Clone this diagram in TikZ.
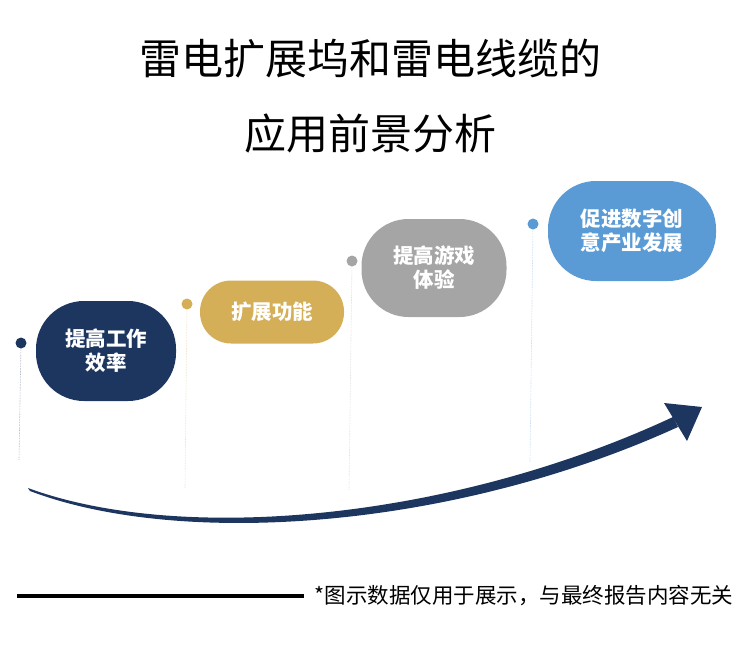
\documentclass[tikz,border=0pt]{standalone}
\usepackage{fontspec}
\setmainfont{Noto Sans CJK SC}
\usetikzlibrary{positioning}

\definecolor{navy}{HTML}{1C3660}
\definecolor{gold}{HTML}{D4AF57}
\definecolor{stone}{HTML}{A5A5A5}
\definecolor{sky}{HTML}{5B9BD5}

\tikzset{
  pill/.style={fill=#1, text=white, align=center, inner sep=0pt,
    font=\fontsize{20.5}{24}\selectfont\bfseries},
  dot/.style={circle, fill=#1, inner sep=0pt, minimum size=11pt},
  stem/.style={draw=#1!50, line width=0.6pt, densely dotted},
}

\begin{document}
\begin{tikzpicture}[x=1pt, y=-1pt]
    \useasboundingbox (0,0) rectangle (744,659);

    % title
    \node[font=\fontsize{42}{75}\selectfont, align=center] (title) at (370,96)
        {雷电扩展坞和雷电线缆的\\应用前景分析};

    % four stages
    \node[pill=navy, minimum width=140pt, minimum height=100pt, rounded corners=48pt] (effect) at (106,351) {提高工作\\效率};
    \node[pill=gold, minimum width=144pt, minimum height=63pt, rounded corners=31pt] (expand) at (272,312) {扩展功能};
    \node[pill=stone, minimum width=145pt, minimum height=98pt, rounded corners=47pt] (game) at (434,268) {提高游戏\\体验};
    \node[pill=sky, minimum width=168pt, minimum height=100pt, rounded corners=48pt] (industry) at (632,231) {促进数字创\\意产业发展};

    % markers
    \node[dot=navy] (d1) at (21,343) {};
    \node[dot=gold] (d2) at (187,304) {};
    \node[dot=stone] (d3) at (352,261) {};
    \node[dot=sky] (d4) at (533,224) {};

    \coordinate (f1) at (19,460);
    \coordinate (f2) at (185,488);
    \coordinate (f3) at (349,490);
    \coordinate (f4) at (530,462);

    \draw[stem=navy] (d1) -- (f1);
    \draw[stem=gold] (d2) -- (f2);
    \draw[stem=stone] (d3) -- (f3);
    \draw[stem=sky] (d4) -- (f4);

    % growth arrow
    \fill[navy] (28,488) .. controls (180,544) and (450,521) .. (673,417)
        -- (678,427) .. controls (452,530) and (180,548) .. (30,491) -- cycle;
    \fill[navy] (702,407) -- (664,403) -- (687,441) -- cycle;

    % footnote
    \node[anchor=west, font=\fontsize{21.5}{22}\selectfont] (note) at (311,596)
        {*图示数据仅用于展示，与最终报告内容无关};
    \coordinate (rule) at (17,596);
    \draw[line width=4pt] (rule) -- ([xshift=-7pt]note.west);

\end{tikzpicture}
\end{document}
